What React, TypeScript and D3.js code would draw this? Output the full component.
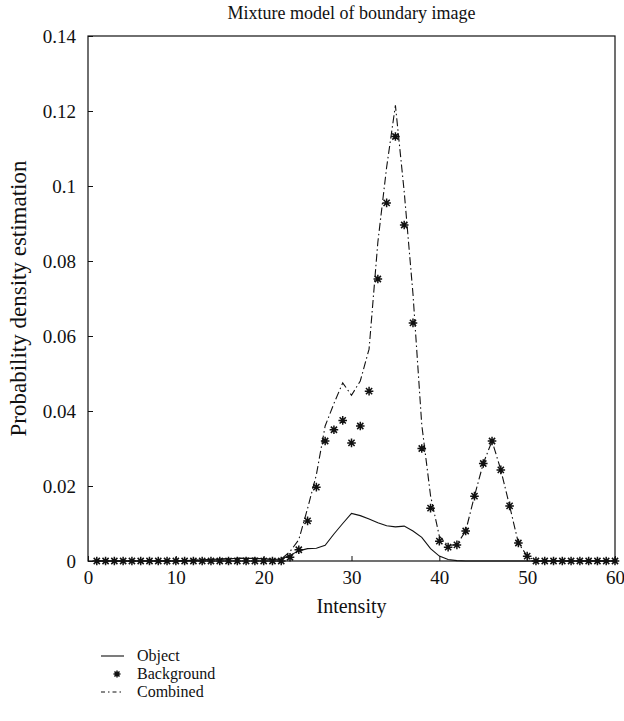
import React, { useRef, useEffect } from "react";
import * as d3 from "d3";

const intensity = d3.range(1, 61);

const objectPdf = [
  0, 0, 0, 0, 0, 0, 0, 0, 0, 0,
  0.0001, 0.0002, 0.0003, 0.0004, 0.0005, 0.0006, 0.0007, 0.0007, 0.0007, 0.0006,
  0.0004, 0.0005, 0.0015, 0.0027, 0.0033, 0.0034, 0.0042, 0.0072, 0.01, 0.0127,
  0.0121, 0.0112, 0.0102, 0.0094, 0.0091, 0.0093, 0.008, 0.0063, 0.0033, 0.0013,
  0.0004, 0.0001, 0, 0, 0, 0, 0, 0, 0, 0,
  0, 0, 0, 0, 0, 0, 0, 0, 0, 0,
];

const backgroundPdf = [
  0, 0, 0, 0, 0, 0, 0, 0, 0, 0,
  0, 0, 0, 0, 0, 0, 0, 0, 0, 0,
  0, 0, 0.001, 0.003, 0.0107, 0.0197, 0.032, 0.035, 0.0375, 0.0315,
  0.036, 0.0453, 0.0752, 0.0955, 0.1132, 0.0896, 0.0635, 0.03, 0.0141, 0.0053,
  0.0037, 0.0043, 0.008, 0.0173, 0.026, 0.032, 0.0243, 0.0147, 0.0048, 0.0013,
  0, 0, 0, 0, 0, 0, 0, 0, 0, 0,
];

const combinedPdf = [
  0, 0, 0, 0, 0, 0, 0, 0, 0, 0,
  0.0001, 0.0002, 0.0003, 0.0004, 0.0005, 0.0006, 0.0007, 0.0007, 0.0007, 0.0006,
  0.0004, 0.0005, 0.0025, 0.0057, 0.014, 0.023, 0.036, 0.042, 0.0475, 0.0442,
  0.048, 0.0565, 0.085, 0.105, 0.1215, 0.0985, 0.0712, 0.0363, 0.0174, 0.0066,
  0.0041, 0.0044, 0.008, 0.0173, 0.026, 0.032, 0.0243, 0.0147, 0.0048, 0.0013,
  0, 0, 0, 0, 0, 0, 0, 0, 0, 0,
];

const xTicks = [0, 10, 20, 30, 40, 50, 60];
const yTicks = [0, 0.02, 0.04, 0.06, 0.08, 0.1, 0.12, 0.14];
const legendLabels = ["Object", "Background", "Combined"];

const FONT = "'Liberation Serif', 'DejaVu Serif', serif";
const DASHDOT = "8,3,1.5,3";

const App = () => {
  const ref = useRef<SVGSVGElement>(null);

  useEffect(() => {
    const width = 624;
    const height = 721;
    const m = { left: 88, right: 9, top: 36, bottom: 160 };

    const svg = d3.select(ref.current);
    svg.selectAll("*").remove();

    const x = d3.scaleLinear().domain([0, 60]).range([m.left, width - m.right]);
    const y = d3.scaleLinear().domain([0, 0.14]).range([height - m.bottom, m.top]);

    const g = svg.append("g");

    // ticks (inside)
    const xAxis = g.append("g")
      .attr("transform", `translate(0,${y(0)})`)
      .call(d3.axisBottom(x).tickValues(xTicks).tickSizeInner(-5).tickSizeOuter(0).tickPadding(10).tickFormat(d3.format("d")));
    const yAxis = g.append("g")
      .attr("transform", `translate(${x(0)},0)`)
      .call(d3.axisLeft(y).tickValues(yTicks).tickSizeInner(-5).tickSizeOuter(0).tickPadding(12).tickFormat(d => d === 0 ? "0" : String(+d)));
    [xAxis, yAxis].forEach(a => {
      a.select(".domain").remove();
      a.selectAll("line").attr("stroke", "#111");
      a.selectAll("text").attr("font-family", FONT).attr("font-size", 19).attr("fill", "#111");
    });

    // frame
    g.append("rect")
      .attr("x", x(0)).attr("y", y(0.14))
      .attr("width", x(60) - x(0)).attr("height", y(0) - y(0.14))
      .attr("fill", "none").attr("stroke", "#111").attr("stroke-width", 1.2);

    const line = d3.line<number>()
      .x((_, i) => x(intensity[i]))
      .y(d => y(d));

    g.append("path")
      .attr("d", line(combinedPdf))
      .attr("fill", "none").attr("stroke", "#111").attr("stroke-width", 1.1)
      .attr("stroke-dasharray", DASHDOT);

    g.append("path")
      .attr("d", line(objectPdf))
      .attr("fill", "none").attr("stroke", "#111").attr("stroke-width", 1.1);

    const star = (sel, cx, cy, r) => {
      const p = d3.path();
      p.moveTo(cx - r, cy); p.lineTo(cx + r, cy);
      p.moveTo(cx, cy - r); p.lineTo(cx, cy + r);
      const k = r * 0.72;
      p.moveTo(cx - k, cy - k); p.lineTo(cx + k, cy + k);
      p.moveTo(cx - k, cy + k); p.lineTo(cx + k, cy - k);
      sel.append("path").attr("d", p.toString()).attr("stroke", "#111").attr("stroke-width", 1.5).attr("fill", "none");
    };

    const stars = g.append("g");
    backgroundPdf.forEach((v, i) => star(stars, x(intensity[i]), y(v), 4.3));

    // titles
    svg.append("text")
      .attr("x", (x(0) + x(60)) / 2).attr("y", 19)
      .attr("text-anchor", "middle")
      .attr("font-family", FONT).attr("font-size", 18).attr("fill", "#111")
      .text("Mixture model of boundary image");
    svg.append("text")
      .attr("x", (x(0) + x(60)) / 2).attr("y", 613)
      .attr("text-anchor", "middle")
      .attr("font-family", FONT).attr("font-size", 20).attr("fill", "#111")
      .text("Intensity");
    svg.append("text")
      .attr("transform", `translate(26,${(y(0) + y(0.14)) / 2}) rotate(-90)`)
      .attr("text-anchor", "middle")
      .attr("font-family", FONT).attr("font-size", 23).attr("fill", "#111")
      .text("Probability density estimation");

    // legend
    const ly = [656, 674, 692];
    const lg = svg.append("g");
    lg.append("line").attr("x1", 101).attr("x2", 124).attr("y1", ly[0]).attr("y2", ly[0]).attr("stroke", "#111").attr("stroke-width", 1.1);
    star(lg, 117, ly[1], 3.5);
    lg.append("line").attr("x1", 101).attr("x2", 124).attr("y1", ly[2]).attr("y2", ly[2]).attr("stroke", "#111").attr("stroke-width", 1).attr("stroke-dasharray", "4,3,1.5,3");
    legendLabels.forEach((t, i) => {
      lg.append("text")
        .attr("x", 137).attr("y", ly[i] + 5)
        .attr("font-family", FONT).attr("font-size", 16).attr("fill", "#111")
        .text(t);
    });
  }, []);

  return (
    <svg ref={ref} width={624} height={721}
      style={{ position: "absolute", left: 0, top: 0, background: "#fff" }} />
  );
};

export default App;
